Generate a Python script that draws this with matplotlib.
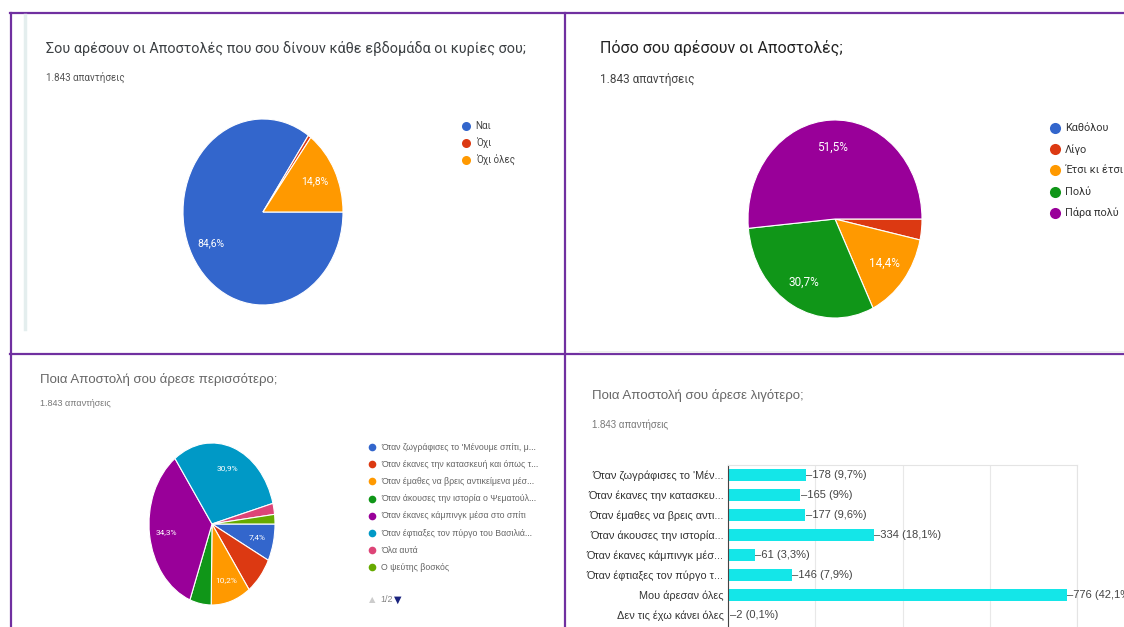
import matplotlib
matplotlib.use("Agg")
import matplotlib.pyplot as plt
import numpy as np

W, H = 1124, 627

# Google Forms palette
G_BLUE, G_RED, G_ORANGE, G_GREEN = '#3366cc', '#dc3912', '#ff9900', '#109618'
G_PURPLE, G_CYAN, G_PINK, G_LIME = '#990099', '#0099c6', '#dd4477', '#66aa00'

# Ερώτηση 1
q1_labels = ['Ναι', 'Όχι', 'Όχι όλες']
q1_values = [84.6, 0.6, 14.8]
q1_text = ['84,6%', '', '14,8%']

# Ερώτηση 2
q2_labels = ['Καθόλου', 'Λίγο', 'Έτσι κι έτσι', 'Πολύ', 'Πάρα πολύ']
q2_values = [0.0, 3.4, 14.4, 30.7, 51.5]
q2_text = ['', '', '14,4%', '30,7%', '51,5%']

# Ερώτηση 3
q3_labels = ["Όταν ζωγράφισες το 'Μένουμε σπίτι, μ...",
             'Όταν έκανες την κατασκευή και όπως τ...',
             'Όταν έμαθες να βρεις αντικείμενα μέσ...',
             'Όταν άκουσες την ιστορία ο Ψεματούλ...',
             'Όταν έκανες κάμπινγκ μέσα στο σπίτι',
             'Όταν έφτιαξες τον πύργο του Βασιλιά...',
             'Όλα αυτά',
             'Ο ψεύτης βοσκός']
q3_values = [7.4, 7.6, 10.2, 5.5, 34.3, 30.9, 2.2, 1.9]
q3_text = ['7,4%', '', '10,2%', '', '34,3%', '30,9%', '', '']

# Ερώτηση 4
q4_labels = ["Όταν ζωγράφισες το 'Μέν...",
             'Όταν έκανες την κατασκευ...',
             'Όταν έμαθες να βρεις αντι...',
             'Όταν άκουσες την ιστορία...',
             'Όταν έκανες κάμπινγκ μέσ...',
             'Όταν έφτιαξες τον πύργο τ...',
             'Μου άρεσαν όλες',
             'Δεν τις έχω κάνει όλες']
q4_counts = [178, 165, 177, 334, 61, 146, 776, 2]
q4_pct = ['9,7%', '9%', '9,6%', '18,1%', '3,3%', '7,9%', '42,1%', '0,1%']

NARROW = ['Liberation Sans Narrow', 'Liberation Sans', 'DejaVu Sans']
ROBOTO = ['Roboto', 'DejaVu Sans']

fig = plt.figure(figsize=(W / 100, H / 100), dpi=100)
fig.patch.set_facecolor('white')


def px_axes(x0, y0, x1, y1):
    return fig.add_axes([x0 / W, 1 - y1 / H, (x1 - x0) / W, (y1 - y0) / H])


# background layer in pixel coordinates
bg = fig.add_axes([0, 0, 1, 1])
bg.set_xlim(0, W)
bg.set_ylim(H, 0)
bg.axis('off')

purple = '#7030a0'
bg.plot([10, W], [13, 13], color=purple, lw=1.6)
bg.plot([10, W], [354, 354], color=purple, lw=1.6)
bg.plot([11, 11], [13, H], color=purple, lw=1.6)
bg.plot([565, 565], [13, H], color=purple, lw=1.6)
bg.plot([25, 25], [15, 329], color='#e4eeee', lw=2.5)
bg.plot([580, W], [352, 352], color='#eeeeee', lw=1.5)


def pie_panel(box, values, colors, texts, fsize):
    ax = px_axes(*box)
    wedges, _ = ax.pie(values, colors=colors, startangle=0, counterclock=False,
                       radius=1, wedgeprops=dict(edgecolor='white', linewidth=0.8))
    ax.set_aspect('auto')
    ax.set_xlim(-1, 1)
    ax.set_ylim(-1, 1)
    ax.axis('off')
    for w, t in zip(wedges, texts):
        if not t:
            continue
        mid = np.deg2rad((w.theta1 + w.theta2) / 2)
        ax.text(0.73 * np.cos(mid), 0.73 * np.sin(mid), t, color='white',
                fontsize=fsize, ha='center', va='center', family=ROBOTO)
    return ax


def legend(x, y0, dy, labels, colors, msize, fsize, family, tcolor):
    for i, (lab, c) in enumerate(zip(labels, colors)):
        y = y0 + i * dy
        bg.plot(x, y, 'o', color=c, markersize=msize, markeredgewidth=0)
        bg.text(x + 7 + msize * 0.4, y, lab, fontsize=fsize, va='center',
                ha='left', color=tcolor, family=family)


# --- Πάνω αριστερά ---
bg.text(46, 49, 'Σου αρέσουν οι Αποστολές που σου δίνουν κάθε εβδομάδα οι κυρίες σου;',
        fontsize=10.4, color='#3c4043', va='center', family=ROBOTO)
bg.text(46, 77, '1.843 απαντήσεις', fontsize=7, color='#555555', va='center', family=ROBOTO)
pie_panel((183, 119, 343, 305), q1_values, [G_BLUE, G_RED, G_ORANGE], q1_text, 7.5)
legend(466, 126, 17, q1_labels, [G_BLUE, G_RED, G_ORANGE], 6.5, 7, ROBOTO, '#444444')

# --- Πάνω δεξιά ---
bg.text(600, 48, 'Πόσο σου αρέσουν οι Αποστολές;', fontsize=11.5, color='#222222',
        va='center', family=ROBOTO)
bg.text(600, 79, '1.843 απαντήσεις', fontsize=8.5, color='#444444', va='center', family=ROBOTO)
pie_panel((748, 120, 922, 318), q2_values, [G_BLUE, G_RED, G_ORANGE, G_GREEN, G_PURPLE],
          q2_text, 8.5)
legend(1055, 128, 21.2, q2_labels, [G_BLUE, G_RED, G_ORANGE, G_GREEN, G_PURPLE],
       8, 7.8, ROBOTO, '#333333')

# --- Κάτω αριστερά ---
bg.text(40, 380, 'Ποια Αποστολή σου άρεσε περισσότερο;', fontsize=9.5, color='#666666',
        va='center', family=NARROW)
bg.text(40, 404, '1.843 απαντήσεις', fontsize=6.5, color='#777777', va='center', family=NARROW)
q3_colors = [G_BLUE, G_RED, G_ORANGE, G_GREEN, G_PURPLE, G_CYAN, G_PINK, G_LIME]
pie_panel((149, 443, 275, 605), q3_values, q3_colors, q3_text, 6)
legend(372, 447, 17.2, q3_labels, q3_colors, 5.5, 6.3, NARROW, '#666666')
bg.text(369, 600, '▲', fontsize=6, color='#cccccc', va='center', ha='left')
bg.text(380, 600, '1/2', fontsize=6.5, color='#888888', va='center', ha='left', family=NARROW)
bg.text(394, 600, '▼', fontsize=7, color='#1a237e', va='center', ha='left')

# --- Κάτω δεξιά ---
bg.text(592, 395, 'Ποια Αποστολή σου άρεσε λιγότερο;', fontsize=9.5, color='#666666',
        va='center', family=NARROW)
bg.text(592, 425, '1.843 απαντήσεις', fontsize=7, color='#777777', va='center', family=NARROW)

ax = px_axes(728, 465, 1077, H)
ypos = np.arange(len(q4_counts))
ax.barh(ypos, q4_counts, height=0.56, color='#14e6e8', zorder=2)
ax.set_xlim(0, 800)
ax.set_ylim(7.6, -0.5)
ax.set_xticks([0, 200, 400, 600, 800])
ax.set_xticklabels([])
ax.tick_params(axis='x', length=0)
ax.grid(axis='x', color='#e8e8e8', lw=0.8, zorder=0)
ax.set_yticks(ypos)
ax.set_yticklabels(q4_labels, fontsize=7.8, color='#333333', family=NARROW)
ax.tick_params(axis='y', length=0, pad=3)
for s in ['top', 'right']:
    ax.spines[s].set_color('#e4e4e4')
ax.spines['bottom'].set_visible(False)
ax.spines['left'].set_color('#444444')
ax.spines['left'].set_linewidth(0.8)
for y, c, p in zip(ypos, q4_counts, q4_pct):
    ax.annotate(f'–{c} ({p})', xy=(c, y), xytext=(0.5, 0), textcoords='offset points',
                va='center', ha='left', fontsize=8, color='#444444', family=NARROW,
                annotation_clip=False, clip_on=False)

fig.savefig('out.png', dpi=100, facecolor='white')
